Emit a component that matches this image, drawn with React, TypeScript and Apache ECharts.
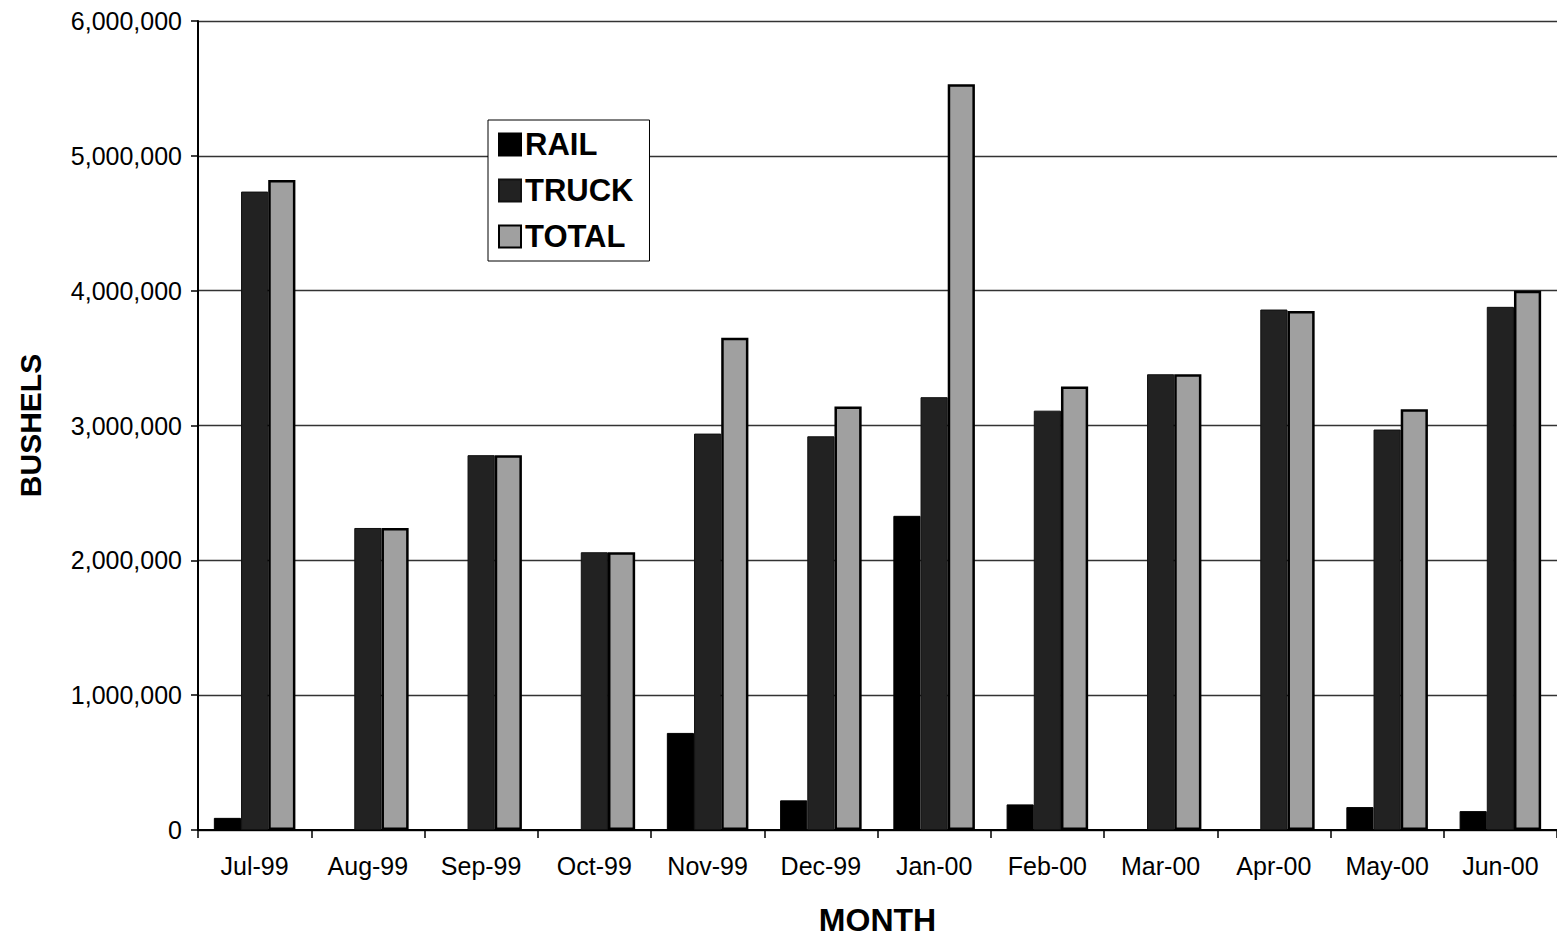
import React, { useEffect, useRef } from "react";
import * as echarts from "echarts";

const months = ["Jul-99", "Aug-99", "Sep-99", "Oct-99", "Nov-99", "Dec-99", "Jan-00", "Feb-00", "Mar-00", "Apr-00", "May-00", "Jun-00"];
const rail = [90000, 0, 0, 0, 720000, 220000, 2330000, 190000, 0, 0, 170000, 140000];
const truck = [4735000, 2240000, 2780000, 2060000, 2940000, 2920000, 3210000, 3110000, 3380000, 3860000, 2970000, 3880000];
const total = [4820000, 2240000, 2780000, 2060000, 3650000, 3140000, 5530000, 3290000, 3380000, 3850000, 3120000, 4000000];
const yTicks = [0, 1000000, 2000000, 3000000, 4000000, 5000000, 6000000];

const FONT = "'Liberation Sans', Arial, sans-serif";

export default function App() {
  const ref = useRef<HTMLDivElement>(null);
  useEffect(() => {
    if (!ref.current) return;
    const chart = echarts.init(ref.current, null, { renderer: "svg" });
    chart.setOption({
      animation: false,
      backgroundColor: "#ffffff",
      textStyle: { fontFamily: FONT },
      grid: { left: 198, top: 21, width: 1368, height: 820, containLabel: false },
      legend: {
        orient: "vertical",
        left: 488,
        top: 120,
        backgroundColor: "#ffffff",
        borderColor: "#000000",
        borderWidth: 1,
        padding: [9, 16, 9, 10],
        itemGap: 15,
        itemWidth: 22,
        itemHeight: 22,
        icon: "rect",
        textStyle: { fontFamily: FONT, fontSize: 31, fontWeight: "bold", color: "#000", padding: [0, 0, 0, -1] },
        data: ["RAIL", "TRUCK", "TOTAL"],
      },
      xAxis: {
        type: "category",
        data: months,
        boundaryGap: true,
        name: "MONTH",
        nameLocation: "middle",
        nameGap: 74,
        nameTextStyle: { fontFamily: FONT, fontSize: 32, fontWeight: "bold", color: "#000" },
        axisLine: { show: true, lineStyle: { color: "#000", width: 2 } },
        axisTick: { show: true, alignWithLabel: false, length: 8, lineStyle: { color: "#000", width: 1.5 } },
        axisLabel: { fontFamily: FONT, fontSize: 25, color: "#000", margin: 23, interval: 0 },
        splitLine: { show: false },
      },
      yAxis: {
        type: "value",
        min: 0,
        max: 6000000,
        interval: 1000000,
        name: "BUSHELS",
        nameLocation: "middle",
        nameGap: 153,
        nameRotate: 90,
        nameTextStyle: { fontFamily: FONT, fontSize: 30, fontWeight: "bold", color: "#000" },
        axisLine: { show: true, lineStyle: { color: "#000", width: 2 } },
        axisTick: { show: true, length: 7, inside: false, lineStyle: { color: "#000", width: 1.5 } },
        axisLabel: {
          fontFamily: FONT,
          fontSize: 25,
          color: "#000",
          margin: 16,
          formatter: (v: number) => (yTicks.includes(v) ? v.toLocaleString("en-US") : ""),
        },
        splitLine: { show: true, lineStyle: { color: "#333", width: 1.3 } },
      },
      series: [
        {
          name: "RAIL",
          type: "bar",
          data: rail,
          barGap: "0%",
          barCategoryGap: "28%",
          itemStyle: { color: "#000000", borderColor: "#000", borderWidth: 1 },
        },
        {
          name: "TRUCK",
          type: "bar",
          data: truck,
          barGap: "0%",
          barCategoryGap: "28%",
          itemStyle: { color: "#222222", borderColor: "#111", borderWidth: 1 },
        },
        {
          name: "TOTAL",
          type: "bar",
          data: total,
          barGap: "0%",
          barCategoryGap: "28%",
          itemStyle: { color: "#a0a0a0", borderColor: "#000", borderWidth: 2.5 },
        },
      ],
    });
    return () => chart.dispose();
  }, []);
  return (
    <div
      ref={ref}
      style={{ position: "absolute", left: 0, top: 0, width: 1557, height: 941, overflow: "hidden" }}
    />
  );
}
